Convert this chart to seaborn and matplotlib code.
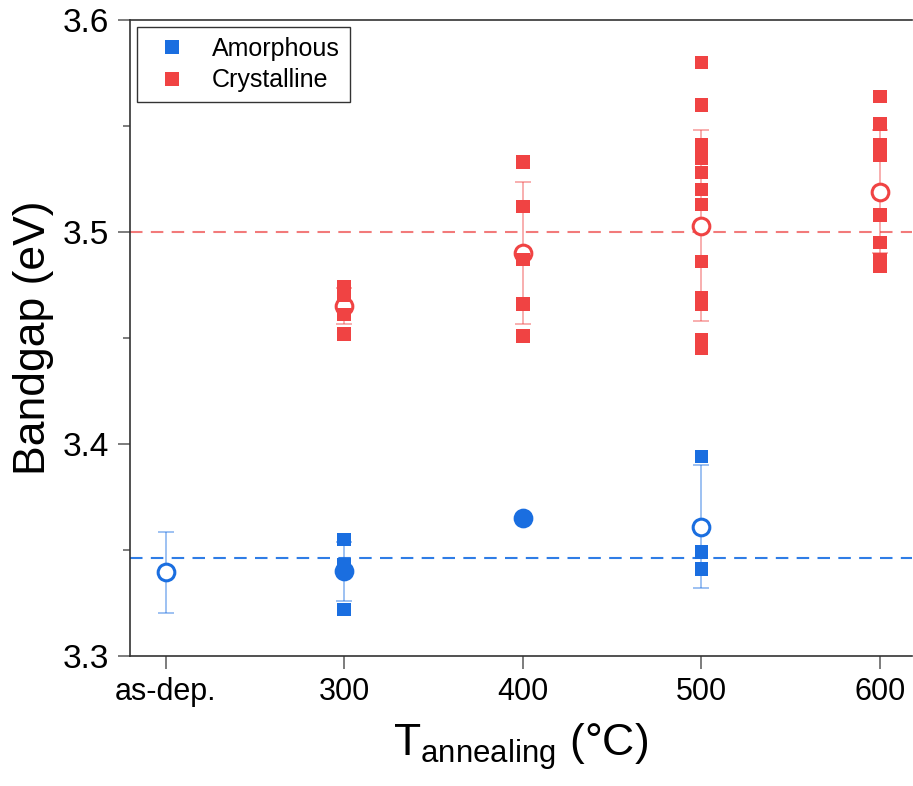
import numpy as np
import pandas as pd
import matplotlib
matplotlib.use("Agg")
import matplotlib.pyplot as plt
import seaborn as sns

# individual measurements (as-dep. plotted at x = 200)
amorph_x = [300, 300, 300, 500, 500, 500]
amorph_y = [3.355, 3.343, 3.322, 3.394, 3.349, 3.341]

cryst_x = [300, 300, 300, 300,
           400, 400, 400, 400, 400,
           500, 500, 500, 500, 500, 500, 500, 500, 500, 500, 500, 500,
           600, 600, 600, 600, 600, 600, 600, 600]
cryst_y = [3.474, 3.470, 3.461, 3.452,
           3.533, 3.512, 3.487, 3.466, 3.451,
           3.580, 3.560, 3.541, 3.535, 3.528, 3.520, 3.513, 3.486, 3.469, 3.466, 3.449, 3.445,
           3.564, 3.551, 3.541, 3.536, 3.508, 3.495, 3.487, 3.484]

# mean values with error bars
amorph_mean_x = [200, 300, 400, 500]
amorph_mean = [3.3395, 3.340, 3.365, 3.361]
amorph_err = [0.019, 0.014, 0.0, 0.029]
amorph_filled = [False, True, True, False]

cryst_mean_x = [300, 400, 500, 600]
cryst_mean = [3.465, 3.490, 3.503, 3.519]
cryst_err = [0.0085, 0.0335, 0.045, 0.029]

amorph_ref = 3.346
cryst_ref = 3.500

tick_pos = [200, 300, 400, 500, 600]
tick_labels = ["as-dep.", "300", "400", "500", "600"]

blue = "#1a6ee0"
red = "#f04343"

sns.set_style("ticks")
plt.rcParams["font.family"] = ["Liberation Sans", "DejaVu Sans"]
plt.rcParams["mathtext.default"] = "regular"
plt.rcParams["text.color"] = "black"
plt.rcParams["axes.labelcolor"] = "black"
plt.rcParams["xtick.labelcolor"] = "black"
plt.rcParams["ytick.labelcolor"] = "black"

df = pd.DataFrame({
    "T": amorph_x + cryst_x,
    "Eg": amorph_y + cryst_y,
    "phase": ["Amorphous"] * len(amorph_x) + ["Crystalline"] * len(cryst_x),
})

fig = plt.figure(figsize=(9.13, 7.86), dpi=100)
ax = fig.add_axes([130 / 913, 1 - 656 / 786, 782 / 913, 636 / 786])

# reference lines
ax.axhline(cryst_ref, color="#f27a7a", lw=1.5, ls=(0, (6, 4)), zorder=1)
ax.axhline(amorph_ref, color="#2f7de6", lw=1.5, ls=(0, (6, 4)), zorder=1)

# means with error bars
for x, m, e, f in zip(amorph_mean_x, amorph_mean, amorph_err, amorph_filled):
    if e > 0:
        ax.errorbar(x, m, yerr=e, fmt="none", ecolor=blue, alpha=0.5,
                    elinewidth=1.2, capsize=6, capthick=1.2, zorder=2)
    ax.plot(x, m, "o", ms=12, mew=2.2, mec=blue,
            mfc=blue if f else "white", zorder=3)

for x, m, e in zip(cryst_mean_x, cryst_mean, cryst_err):
    ax.errorbar(x, m, yerr=e, fmt="none", ecolor=red, alpha=0.5,
                elinewidth=1.2, capsize=6, capthick=1.2, zorder=2)
    ax.plot(x, m, "o", ms=12, mew=2.2, mec=red, mfc="white", zorder=3)

# individual points
sns.scatterplot(data=df, x="T", y="Eg", hue="phase", marker="s", s=95,
                linewidth=0, palette={"Amorphous": blue, "Crystalline": red},
                ax=ax, zorder=4)

ax.set_xlim(180, 618)
ax.set_ylim(3.3, 3.6)
ax.set_xticks(tick_pos)
ax.set_xticklabels(tick_labels)
ax.set_yticks([3.3, 3.4, 3.5, 3.6])
ax.set_yticks([3.35, 3.45, 3.55], minor=True)
ax.tick_params(axis="both", which="major", direction="out", length=9,
               width=1.2, color="#666666", pad=6)
ax.tick_params(axis="y", which="minor", direction="out", length=5,
               width=1.2, color="#666666")
ax.tick_params(axis="x", labelsize=22)
ax.tick_params(axis="y", labelsize=24)

for side in ["left", "bottom", "top"]:
    ax.spines[side].set_color("#333333")
    ax.spines[side].set_linewidth(1.2)
ax.spines["right"].set_visible(False)

ax.set_xlabel(r"T$_{annealing}$ (°C)", fontsize=32, labelpad=10)
ax.set_ylabel("Bandgap (eV)", fontsize=32, labelpad=6)

sns.move_legend(ax, "upper left", bbox_to_anchor=(0.009, 0.989),
                borderaxespad=0, title=None, frameon=True, fontsize=18,
                fancybox=False, edgecolor="#333333", framealpha=1,
                handletextpad=0.6, borderpad=0.4, labelspacing=0.3)
leg = ax.get_legend()
leg.get_frame().set_linewidth(1.0)

fig.savefig("out.png", dpi=100)
